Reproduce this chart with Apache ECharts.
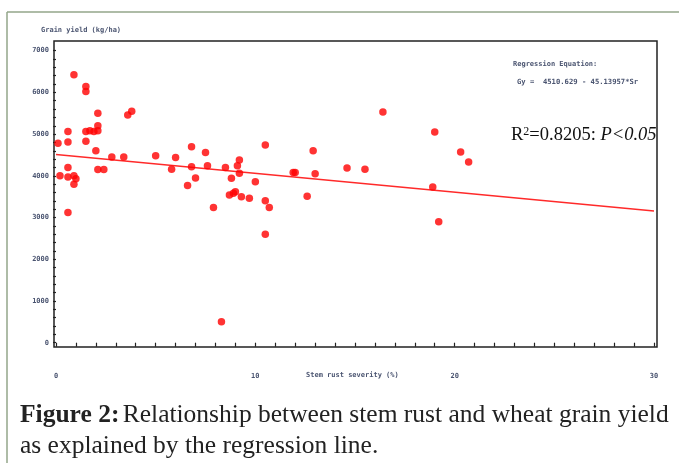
<!DOCTYPE html>
<html style="height: 100%">
<head>
    <meta charset="utf-8">
</head>
<body style="height: 100%; margin: 0; background-color: #fff;">
<div id="container" style="width: 679px; height: 463px"></div>
<script type="text/javascript" src="https://cdn.jsdelivr.net/npm/echarts@6/dist/echarts.min.js"></script>
<script type="text/javascript">
// stem rust severity (%) vs grain yield (kg/ha)
var severity = [0.1, 0.6, 0.6, 0.6, 0.2, 0.6, 0.9, 1.0, 0.9, 0.6,
    0.9, 1.5, 1.5, 1.5, 1.7, 1.9, 1.5, 2.1, 2.1, 2.1,
    2.0, 2.1, 2.4, 2.8, 3.4, 3.6, 3.8, 5.0, 5.8, 6.0,
    6.6, 6.8, 6.8, 7.0, 7.5, 7.6, 7.9, 8.3, 8.5, 8.8,
    8.7, 8.9, 9.0, 9.1, 9.2, 9.2, 9.3, 9.7, 10.0, 10.5,
    10.5, 10.7, 10.5, 11.9, 12.0, 12.6, 12.9, 13.0, 14.6, 15.5,
    16.4, 19.0, 18.9, 19.2, 20.3, 20.7];
var yieldKg = [4780, 5060, 4810, 4200, 4000, 3970, 4000, 3930, 3800, 3120,
    6420, 6140, 6020, 5060, 5080, 5060, 4830, 5500, 5200, 5080,
    4600, 4150, 4150, 4450, 4450, 5460, 5550, 4480, 4160, 4440,
    3770, 4700, 4220, 3950, 4560, 4240, 3240, 500, 4200, 3940,
    3540, 3580, 3620, 4240, 4380, 4060, 3500, 3460, 3860, 4740,
    3400, 3240, 2600, 4080, 4080, 3510, 4600, 4050, 4190, 4160,
    5530, 5050, 3730, 2900, 4570, 4330];

// Gy = 4510.629 - 45.13957*Sr
var intercept = 4510.629;
var slope = -45.13957;
var lineEnds = [0, 30];

var xLabels = [0, 10, 20, 30];
var yLabels = [0, 1000, 2000, 3000, 4000, 5000, 6000, 7000];
var xTicks = [];
for (var i = 0; i <= 30; i++) xTicks.push(i);
var yTicks = [];
for (var v = 0; v <= 7000; v += 200) yTicks.push(v);

var points = severity.map(function (s, i) { return [s, yieldKg[i]]; });
var fitLine = lineEnds.map(function (s) { return [s, intercept + slope * s]; });

var labelColor = '#4a5470';
var chart = echarts.init(document.getElementById('container'));

chart.setOption({
    animation: false,
    grid: {
        left: 54, top: 41, right: 22, bottom: 116,
        show: true, borderColor: '#222', borderWidth: 1.5
    },
    xAxis: {
        type: 'value', min: -0.1, max: 30.15,
        splitLine: { show: false },
        axisLine: { show: false },
        axisTick: { show: true, length: 4, customValues: xTicks, lineStyle: { color: '#222', width: 1.2 } },
        axisLabel: {
            customValues: xLabels, margin: 26,
            formatter: function (v) { return String(v); },
            color: labelColor, fontSize: 7, fontWeight: 'bold', fontFamily: 'DejaVu Sans Mono'
        }
    },
    yAxis: {
        type: 'value', min: -103, max: 7232,
        splitLine: { show: false },
        axisLine: { show: false },
        axisTick: { show: true, length: 3, customValues: yTicks, lineStyle: { color: '#222', width: 1.2 } },
        axisLabel: {
            customValues: yLabels, margin: 5,
            formatter: function (v) { return String(v); },
            color: labelColor, fontSize: 7, fontWeight: 'bold', fontFamily: 'DejaVu Sans Mono'
        }
    },
    series: [{
        type: 'line',
        data: fitLine,
        showSymbol: false,
        lineStyle: { color: '#ff2a2a', width: 1.5 },
        z: 2
    }, {
        type: 'scatter',
        data: points,
        symbol: 'circle',
        symbolSize: 7.5,
        itemStyle: { color: '#ff0000' },
        z: 3
    }],
    graphic: [
        { type: 'line', shape: { x1: 7, y1: 12, x2: 679, y2: 12 }, style: { stroke: '#93a68a', lineWidth: 1.5 } },
        { type: 'line', shape: { x1: 7, y1: 12, x2: 7, y2: 463 }, style: { stroke: '#93a68a', lineWidth: 1.5 } },
        {
            type: 'text', left: 41, top: 27,
            style: { text: 'Grain yield (kg/ha)', fill: labelColor, font: 'bold 7px "DejaVu Sans Mono"' }
        },
        {
            type: 'text', left: 306, top: 372,
            style: { text: 'Stem rust severity (%)', fill: labelColor, font: 'bold 7px "DejaVu Sans Mono"' }
        },
        {
            type: 'text', left: 513, top: 61,
            style: { text: 'Regression Equation:', fill: labelColor, font: 'bold 7px "DejaVu Sans Mono"' }
        },
        {
            type: 'text', left: 517, top: 79,
            style: { text: 'Gy =  4510.629 - 45.13957*Sr', fill: labelColor, font: 'bold 7.2px "DejaVu Sans Mono"' }
        },
        {
            type: 'text', left: 511, top: 126,
            style: {
                text: '{a|R}{s|2}{a|=0.8205: }{i|P<0.05}',
                rich: {
                    a: { fontFamily: 'Liberation Serif', fontSize: 18.5, fill: '#111', verticalAlign: 'bottom' },
                    s: { fontFamily: 'Liberation Serif', fontSize: 12, fill: '#111', verticalAlign: 'top' },
                    i: { fontFamily: 'Liberation Serif', fontSize: 18.5, fontStyle: 'italic', fill: '#111', verticalAlign: 'bottom' }
                }
            }
        },
        {
            type: 'text', left: 20, top: 402,
            style: {
                text: '{b|Figure 2:} {n|Relationship between stem rust and wheat grain yield}',
                rich: {
                    b: { fontFamily: 'Liberation Serif', fontSize: 25.5, fontWeight: 'bold', fill: '#222' },
                    n: { fontFamily: 'Liberation Serif', fontSize: 25.5, fill: '#222' }
                }
            }
        },
        {
            type: 'text', left: 20, top: 433,
            style: { text: 'as explained by the regression line.', font: '25.5px "Liberation Serif"', fill: '#222' }
        }
    ]
});
</script>
</body>
</html>
